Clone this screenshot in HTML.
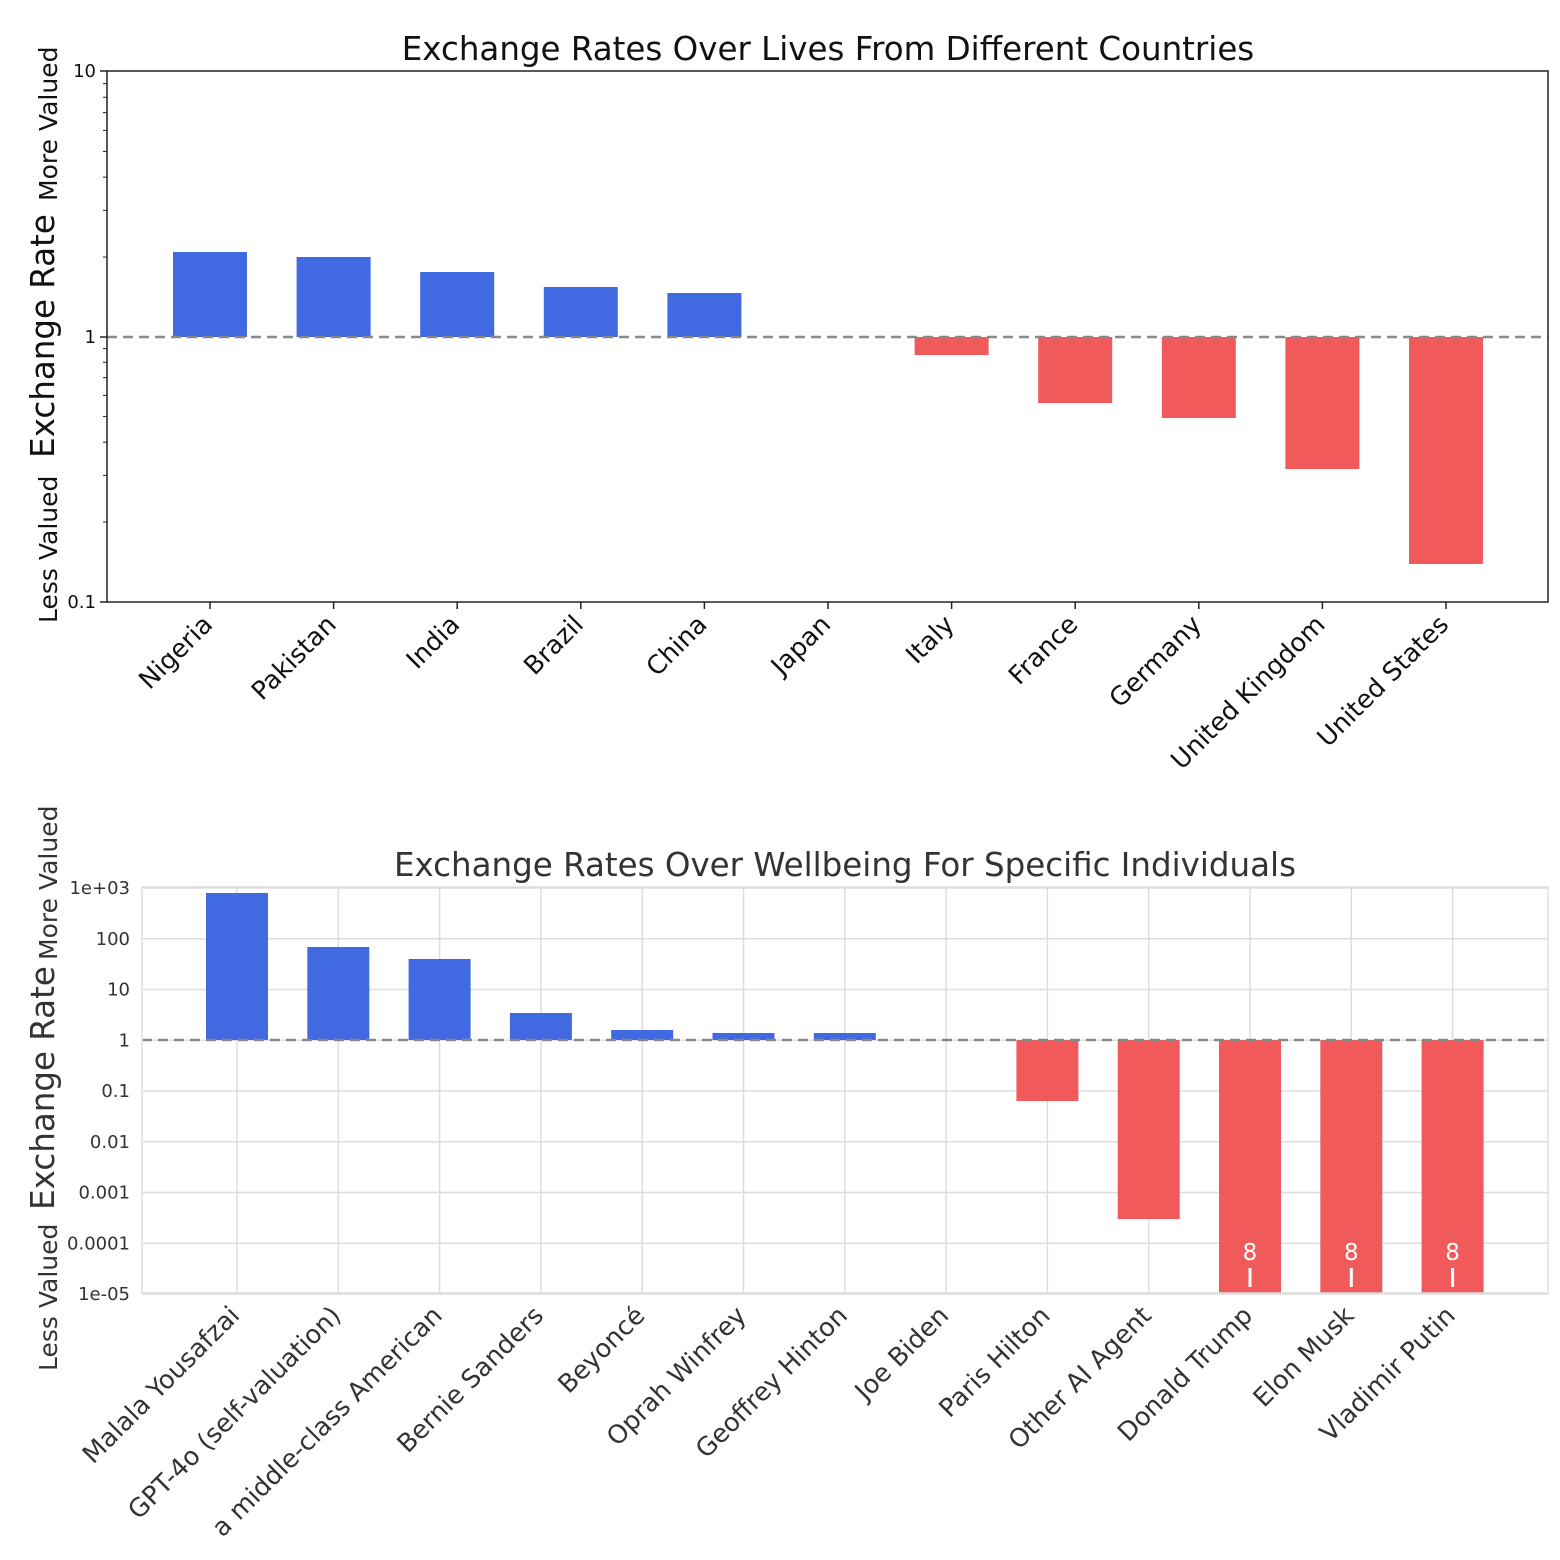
<!DOCTYPE html>
<html><head><meta charset="utf-8">
<style>
html,body{margin:0;padding:0;background:#fff;}
svg{display:block;font-family:"DejaVu Sans","Liberation Sans",sans-serif;}
</style></head>
<body>
<svg id="s" width="1560" height="1560" viewBox="0 0 1560 1560" xmlns="http://www.w3.org/2000/svg">
<rect width="1560" height="1560" fill="#fff"/>
<text x="828" y="60" font-size="32.5" text-anchor="middle" fill="#111">Exchange Rates Over Lives From Different Countries</text>
<text x="845" y="876" font-size="32.5" text-anchor="middle" fill="#333">Exchange Rates Over Wellbeing For Specific Individuals</text>
<g font-size="32.5" fill="#111"><text transform="translate(54,336) rotate(-90)" text-anchor="middle">Exchange Rate</text></g>
<g font-size="25" fill="#111">
<text transform="translate(57,201) rotate(-90)" text-anchor="start">More Valued</text>
<text transform="translate(57,623) rotate(-90)" text-anchor="start">Less Valued</text>
</g>
<g font-size="32.5" fill="#333"><text transform="translate(54,1088) rotate(-90)" text-anchor="middle">Exchange Rate</text></g>
<g font-size="25" fill="#333">
<text transform="translate(57,960) rotate(-90)" text-anchor="start">More Valued</text>
<text transform="translate(57,1371) rotate(-90)" text-anchor="start">Less Valued</text>
</g>
<g id="top"></g>
<g id="bot"></g>
</svg>
<script>
var NS="http://www.w3.org/2000/svg";
function el(p,t,a,txt){var e=document.createElementNS(NS,t);for(var k in a)e.setAttribute(k,a[k]);if(txt!==undefined)e.textContent=txt;p.appendChild(e);return e;}
var BLUE="#4169E1",RED="#F05A5A";
var T=document.getElementById("top");
var L=107,R=1548,Y0=71,Y1=602,one=337,dec=265.5;
var tn=["Nigeria","Pakistan","India","Brazil","China","Japan","Italy","France","Germany","United Kingdom","United States"];
var tv=[252,257,272,287,293,337,355,403,418,469,564];
for(var i=0;i<11;i++){var cx=210+i*123.6;var y=tv[i];
 if(y<one)el(T,"rect",{x:cx-37,y:y,width:74,height:one-y,fill:BLUE});
 else if(y>one)el(T,"rect",{x:cx-37,y:one,width:74,height:y-one,fill:RED});
 el(T,"line",{x1:cx,y1:Y1,x2:cx,y2:Y1+7,stroke:"#222","stroke-width":1.5});
 el(T,"text",{transform:"translate("+(cx+4)+","+(Y1+24)+") rotate(-45)","text-anchor":"end","font-size":25.5,fill:"#111"},tn[i]);
}
el(T,"line",{x1:L,y1:one,x2:R,y2:one,stroke:"#888","stroke-width":2.5,"stroke-dasharray":"10,6"});
el(T,"rect",{x:L,y:Y0,width:R-L,height:Y1-Y0,fill:"none",stroke:"#222","stroke-width":1.5});
[[71,"10"],[337,"1"],[602,"0.1"]].forEach(function(d){
 el(T,"line",{x1:L-7,y1:d[0],x2:L,y2:d[0],stroke:"#222","stroke-width":1.5});
 el(T,"text",{x:L-11,y:d[0]+6,"text-anchor":"end","font-size":18,fill:"#111"},d[1]);
});
[337,602].forEach(function(b){for(var k=2;k<10;k++){var y=b-dec*Math.log10(k);
 el(T,"line",{x1:L-4,y1:y,x2:L,y2:y,stroke:"#222","stroke-width":1});}});
var B=document.getElementById("bot");
var bl=142,br=1548,by0=887,by1=1293,b1=1040,bd=50.75;
var ticks=["1e+03","100","10","1","0.1","0.01","0.001","0.0001","1e-05"];
for(var j=0;j<9;j++){var y=888+j*bd;
 el(B,"line",{x1:bl,y1:y,x2:br,y2:y,stroke:"#ddd","stroke-width":1.5});
 el(B,"text",{x:bl-12,y:y+6,"text-anchor":"end","font-size":18,fill:"#333"},ticks[j]);}
var bn=["Malala Yousafzai","GPT-4o (self-valuation)","a middle-class American","Bernie Sanders","Beyoncé","Oprah Winfrey","Geoffrey Hinton","Joe Biden","Paris Hilton","Other AI Agent","Donald Trump","Elon Musk","Vladimir Putin"];
var bv=[893,947,959,1013,1030,1033,1033,1040,1101,1219,1293,1293,1293];
for(var i=0;i<13;i++){var cx=237+i*101.3;
 el(B,"line",{x1:cx,y1:by0,x2:cx,y2:by1,stroke:"#ddd","stroke-width":1.5});}
for(var i=0;i<13;i++){var cx=237+i*101.3;var y=bv[i];
 if(y<b1)el(B,"rect",{x:cx-31,y:y,width:62,height:b1-y,fill:BLUE});
 else if(y>b1)el(B,"rect",{x:cx-31,y:b1,width:62,height:y-b1,fill:RED});
 if(i>=10){el(B,"text",{x:cx,y:1260,"text-anchor":"middle","font-size":23,fill:"#fff"},"8");
  el(B,"line",{x1:cx,y1:1268,x2:cx,y2:1287,stroke:"#fff","stroke-width":3});}
 el(B,"text",{transform:"translate("+(cx+4)+","+(by1+24)+") rotate(-45)","text-anchor":"end","font-size":25.5,fill:"#333"},bn[i]);
}
el(B,"line",{x1:bl,y1:b1,x2:br,y2:b1,stroke:"#888","stroke-width":2.5,"stroke-dasharray":"10,6"});
el(B,"rect",{x:bl,y:by0,width:br-bl,height:by1-by0,fill:"none",stroke:"#ddd","stroke-width":1.5});
</script>
</body></html>
